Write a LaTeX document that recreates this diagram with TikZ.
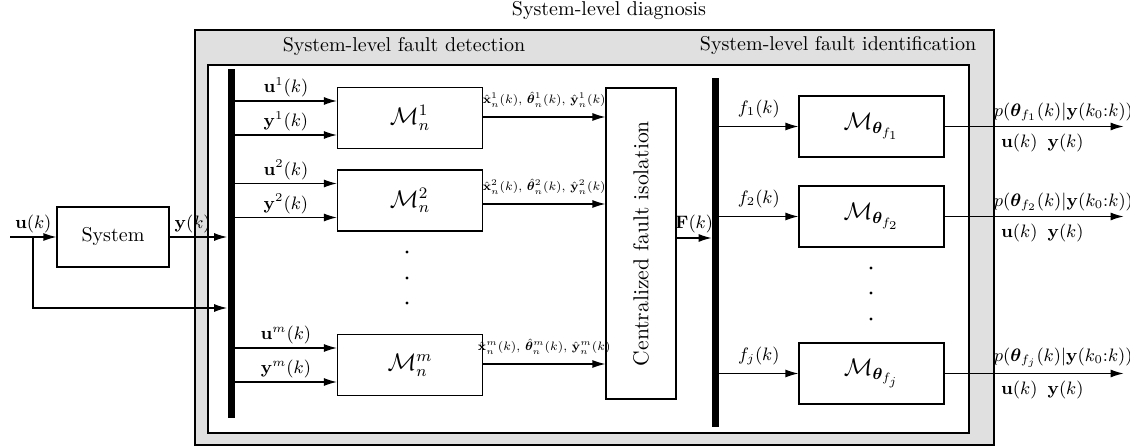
\documentclass[tikz,border=0pt]{standalone}
\usepackage{amsmath,amssymb,bm,graphicx}
\usetikzlibrary{arrows.meta,calc}
\definecolor{framegray}{RGB}{224,224,224}
\newcommand{\outlab}[1]{\scalebox{0.87}{#1}}
\begin{document}
\begin{tikzpicture}[x=0.5pt,y=-0.5pt,
  arr/.style={-{Latex[length=6.5pt,width=4pt]}, line width=0.6pt},
  blk/.style={draw, line width=0.6pt, minimum width=72.5pt, minimum height=30.5pt, inner sep=0pt, font=\large},
  sysblk/.style={draw, line width=0.6pt, minimum width=56pt, minimum height=30pt, inner sep=0pt},
  bus/.style={fill=black, inner sep=0pt, minimum width=3.5pt, minimum height=174.5pt},
  lab/.style={font=\small, above, inner sep=2pt, yshift=-0.5pt},
  olab/.style={font=\scriptsize, above, inner sep=1pt, yshift=3.5pt},
  flab/.style={font=\small, above, inner sep=2pt, yshift=2pt},
  Flab/.style={font=\small, above, inner sep=2pt, yshift=0pt},
  plab/.style={font=\small, anchor=south west, inner sep=2pt, yshift=0.5pt},
  uylab/.style={font=\small, anchor=north west, inner sep=2pt, yshift=-1.5pt},
  ttl/.style={inner sep=0pt}
]
\useasboundingbox (0,0) rectangle (1130,448);

% frames
\node[draw, line width=0.9pt, fill=framegray, minimum width=399.5pt, minimum height=207.5pt, inner sep=0pt] (outer) at (594.5,237.5) {};
\node[draw, line width=0.6pt, fill=white, minimum width=380.5pt, minimum height=184pt, inner sep=0pt] (inner) at (588.5,249) {};

% titles
\node[ttl] (t0) at (609,11) {System-level diagnosis};
\node[ttl] (t1) at (404,47) {System-level fault detection};
\node[ttl] (t2) at (838,46) {System-level fault identification};

% system
\node[sysblk] (Sys) at (113,237) {System};
\coordinate (uin) at (10,237);
\coordinate (br) at (33,237);
\coordinate (fb) at (33,308);

% buses
\node[bus] (B1) at (231,243.5) {};
\node[bus] (B2) at (715.5,252.5) {};

% local models
\node[blk] (M1) at (410,118) {$\mathcal{M}_n^1$};
\node[blk] (M2) at (410,200.5) {$\mathcal{M}_n^2$};
\node[blk] (Mm) at (410,365) {$\mathcal{M}_n^m$};

% central isolation
\node[draw, line width=0.6pt, minimum width=35pt, minimum height=155.5pt, inner sep=0pt] (C) at (641,243.5)
  {\rotatebox{90}{\fontsize{10.8}{13}\selectfont Centralized fault isolation}};

% fault models
\node[blk] (F1) at (871.5,126.5) {$\mathcal{M}_{\bm{\theta}_{f_1}}$};
\node[blk] (F2) at (871.5,216.5) {$\mathcal{M}_{\bm{\theta}_{f_2}}$};
\node[blk] (Fj) at (871.5,373.5) {$\mathcal{M}_{\bm{\theta}_{f_j}}$};

% dots
\foreach \yy in {252,278,303} \fill (407,\yy) circle (0.8pt);
\foreach \yy in {268,293,319} \fill (871,\yy) circle (0.8pt);

% system connections
\draw[arr] (uin) -- (Sys.west) node[lab, midway] {$\mathbf{u}(k)$};
\draw[arr] (Sys.east) -- (Sys.east -| B1.west) node[lab, pos=0.4] {$\mathbf{y}(k)$};
\draw[arr] (br) -- (fb) -- (fb -| B1.west);

% inputs to local models
\foreach \m/\s in {M1/1,M2/2,Mm/m}{
  \coordinate (\m u) at ([yshift=8.5pt]\m.west);
  \coordinate (\m y) at ([yshift=-8.5pt]\m.west);
  \draw[arr] (\m u -| B1.east) -- (\m u) node[lab, midway] {$\mathbf{u}^{\s}(k)$};
  \draw[arr] (\m y -| B1.east) -- (\m y) node[lab, midway] {$\mathbf{y}^{\s}(k)$};
}

% outputs of local models
\draw[arr] ([yshift=0.5pt]M1.east) -- ([yshift=0.5pt]M1.east -| C.west) node[olab, midway]
  {\outlab{$\hat{\mathbf{x}}_n^1(k)$, $\hat{\bm{\theta}}_n^1(k)$, $\hat{\mathbf{y}}_n^1(k)$}};
\draw[arr] ([yshift=-1.75pt]M2.east) -- ([yshift=-1.75pt]M2.east -| C.west) node[olab, midway]
  {\outlab{$\hat{\mathbf{x}}_n^2(k)$, $\hat{\bm{\theta}}_n^2(k)$, $\hat{\mathbf{y}}_n^2(k)$}};
\draw[arr] ([yshift=0.5pt]Mm.east) -- ([yshift=0.5pt]Mm.east -| C.west) node[olab, midway]
  {\outlab{$\hat{\mathbf{x}}_n^m(k)$, $\hat{\bm{\theta}}_n^m(k)$, $\hat{\mathbf{y}}_n^m(k)$}};

% central to bus
\coordinate (Fy) at ([yshift=2.75pt]C.east);
\draw[arr] (Fy) -- (Fy -| B2.west) node[Flab, midway] {$\mathbf{F}(k)$};

% bus to fault models
\draw[arr] (F1.west -| B2.east) -- (F1.west) node[flab, midway] {$f_1(k)$};
\draw[arr] (F2.west -| B2.east) -- (F2.west) node[flab, midway] {$f_2(k)$};
\draw[arr] (Fj.west -| B2.east) -- (Fj.west) node[flab, midway] {$f_j(k)$};

% outputs
\foreach \f/\s in {F1/1,F2/2,Fj/j}{
  \coordinate (\f o) at ([xshift=89.5pt]\f.east);
  \draw[arr] (\f.east) -- (\f o)
    node[plab, pos=0.25] {$p(\bm{\theta}_{f_{\s}}(k)|\mathbf{y}(k_0{:}k))$}
    node[uylab, pos=0.29] {$\mathbf{u}(k)\hspace{5pt}\mathbf{y}(k)$};
}
\end{tikzpicture}
\end{document}
